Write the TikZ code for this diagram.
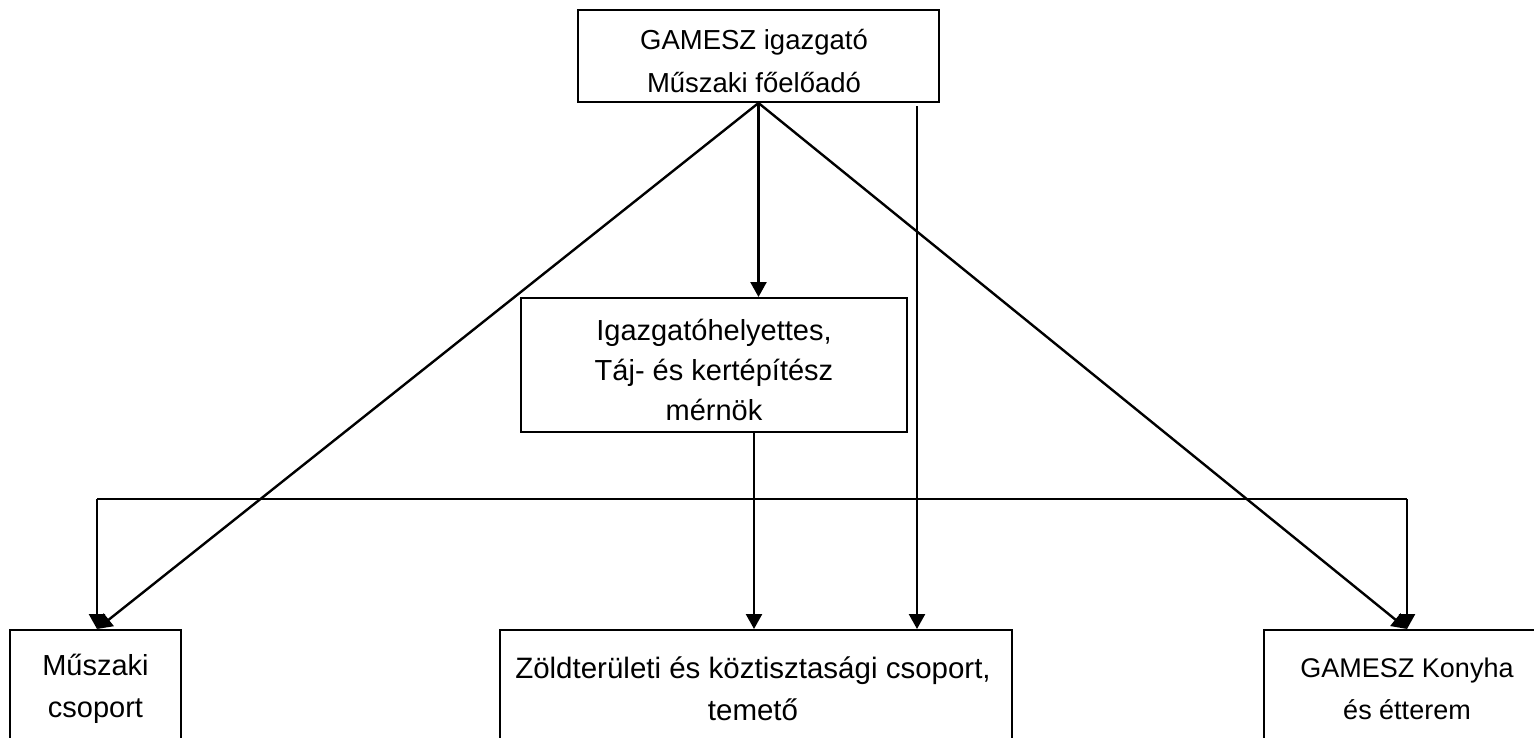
\documentclass[tikz,border=0pt]{standalone}
\usepackage{fontspec}
\setmainfont{Liberation Sans}
\usetikzlibrary{arrows.meta}
\begin{document}
\begin{tikzpicture}[x=1pt,y=-1pt,
 box/.style={draw, line width=2pt, align=center, inner sep=0pt, font=\fontsize{29}{41}\selectfont},
 conn/.style={line width=2.4pt},
 arr/.style={conn, -{Triangle[length=15pt,width=16pt]}},
 thinline/.style={line width=1.3pt}]
\useasboundingbox (0,0) rectangle (1534,737);
\clip (0,0) rectangle (1534,737);
\node[box, minimum width=361pt, minimum height=92pt] (top) at (758.5,56) {};
\node[font=\fontsize{27.5}{43}\selectfont, align=center] (toptext) at (754,61) {GAMESZ igazgató\\Műszaki főelőadó};
\node[box, minimum width=386pt, minimum height=134pt] (mid) at (714,365) {};
\node[font=\fontsize{29}{40}\selectfont, align=center] (midtext) at (714,370) {Igazgatóhelyettes,\\Táj- és kertépítész\\mérnök};
\node[box, minimum width=171pt, minimum height=120pt] (mszak) at (95.5,690) {};
\node[font=\fontsize{29}{42}\selectfont, align=center] (mszaktext) at (95.5,689) {Műszaki\\csoport};
\node[box, minimum width=512pt, minimum height=120pt] (zold) at (756,690) {};
\node[font=\fontsize{29.5}{42}\selectfont, align=center] (zoldtext) at (753,689) {Zöldterületi és köztisztasági csoport,\\temető};
\node[box, minimum width=290pt, minimum height=120pt] (konyha) at (1409,690) {};
\node[font=\fontsize{27}{42}\selectfont, align=center] (konyhatext) at (1407,689) {GAMESZ Konyha\\és étterem};
\coordinate (hl) at (97,499);
\coordinate (hr) at (1407,499);
\coordinate (mj) at (754,499);
\coordinate (rdrop) at (917,106);
\draw[arr] (top.south) -- (top.south |- mid.north);
\draw[arr] (top.south) -- (hl |- mszak.north);
\draw[arr] (top.south) -- (hr |- konyha.north);
\draw[arr] (rdrop) -- (rdrop |- zold.north);
\draw[conn] (hl) -- (hr);
\draw[arr] (hl) -- (hl |- mszak.north);
\draw[arr] (hr) -- (hr |- konyha.north);
\draw[thinline] (mj |- mid.south) -- (mj);
\draw[arr] (mj) -- (mj |- zold.north);
\end{tikzpicture}
\end{document}
